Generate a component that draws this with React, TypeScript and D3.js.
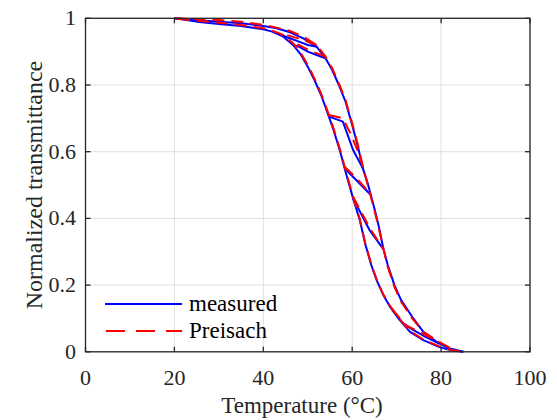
import React from "react";
import * as d3 from "d3";

// ---------- data ----------
const xTicks = [0, 20, 40, 60, 80, 100];
const yTicks = [0, 0.2, 0.4, 0.6, 0.8, 1];
const yTickLabels = ["0", "0.2", "0.4", "0.6", "0.8", "1"];

// measured (blue)
const measHeat: [number, number][] = [
  [20, 1], [25, 0.995], [30, 0.99], [35, 0.985], [40, 0.977], [43, 0.97], [46, 0.958], [49, 0.94],
  [52, 0.915], [54, 0.88], [55.5, 0.845], [57, 0.8], [58.5, 0.75], [60, 0.68], [61.3, 0.615],
  [62.4, 0.55], [63.5, 0.505], [65, 0.43], [66, 0.375], [67, 0.31], [68, 0.26], [69.5, 0.2],
  [71, 0.155], [73.5, 0.105], [76, 0.06], [79.5, 0.025], [82, 0.01], [85, 0],
];
const measCool: [number, number][] = [
  [85, 0], [82, 0.005], [79.5, 0.015], [76, 0.035], [73, 0.06], [70.7, 0.095], [68.5, 0.135],
  [67, 0.17], [65.5, 0.215], [64.3, 0.26], [63, 0.32], [61.7, 0.395], [60.2, 0.46], [58.7, 0.53],
  [57.3, 0.6], [55.8, 0.665], [54.5, 0.715], [53, 0.77], [51.5, 0.815], [50, 0.855], [48.5, 0.89],
  [46.7, 0.92], [44.5, 0.945], [42, 0.96], [40, 0.967], [35, 0.977], [30, 0.983], [25, 0.99], [20, 1],
];
const measMinor1: [number, number][] = [[54.8, 0.705], [57.9, 0.69], [60.2, 0.605], [62.4, 0.55]];
const measMinor2: [number, number][] = [[58.3, 0.55], [60.9, 0.515], [64.2, 0.47]];
const measMinor3: [number, number][] = [[60.2, 0.46], [63.9, 0.365], [66.9, 0.31]];
const measMinor4: [number, number][] = [[69, 0.125], [71.5, 0.085], [73.7, 0.066], [76.5, 0.045], [79.5, 0.025]];
const measMinor5: [number, number][] = [[52, 0.915], [50, 0.92], [48, 0.93], [46, 0.94], [44, 0.95]];
const measMinor6: [number, number][] = [[54, 0.88], [52, 0.89], [50, 0.9], [48, 0.915], [46.7, 0.92]];

// Preisach (red dashed)
const preHeat: [number, number][] = [
  [20, 1], [25, 0.998], [30, 0.995], [35, 0.99], [40, 0.98], [43, 0.972], [46, 0.962], [49, 0.945],
  [52, 0.92], [54, 0.885], [55.5, 0.85], [57, 0.805], [58.5, 0.755], [60, 0.685], [61.3, 0.62],
  [62.4, 0.555], [63.5, 0.5], [65, 0.425], [66, 0.37], [67, 0.31], [68, 0.255], [69.5, 0.195],
  [71, 0.15], [73.5, 0.1], [76, 0.06], [79.5, 0.03], [82, 0.012], [84, 0.002],
];
const preCool: [number, number][] = [
  [84, 0.002], [82, 0.006], [79.5, 0.017], [76, 0.037], [73, 0.062], [70.7, 0.097], [68.5, 0.138],
  [67, 0.172], [65.5, 0.217], [64.3, 0.262], [63, 0.322], [61.7, 0.398], [60.2, 0.465], [58.7, 0.535],
  [57.3, 0.605], [55.8, 0.67], [54.5, 0.72], [53, 0.775], [51.5, 0.82], [50, 0.86], [48.5, 0.895],
  [46.7, 0.925], [44.5, 0.95], [42, 0.963], [40, 0.97], [35, 0.98], [30, 0.987], [25, 0.993], [20, 1],
];
const preMinor1: [number, number][] = [[54.8, 0.71], [57.9, 0.7], [59.8, 0.65], [61.3, 0.6], [62.4, 0.555]];
const preMinor2: [number, number][] = [[58.3, 0.555], [61, 0.52], [64, 0.475]];
const preMinor3: [number, number][] = [[60.2, 0.465], [62, 0.42], [64, 0.37], [66.9, 0.31]];
const preMinor4: [number, number][] = [[69, 0.128], [72, 0.08], [75, 0.06], [79.5, 0.03]];
const preMinor5: [number, number][] = [[52, 0.92], [49, 0.935], [46.5, 0.945], [44, 0.955]];
const preMinor6: [number, number][] = [[54, 0.885], [51, 0.9], [48, 0.92], [46, 0.93]];

const measuredSeries = [measHeat, measCool, measMinor1, measMinor2, measMinor3, measMinor4, measMinor5, measMinor6];
const preisachSeries = [preHeat, preCool, preMinor1, preMinor2, preMinor3, preMinor4, preMinor5, preMinor6];

const legendLabels = ["measured", "Preisach"];

// ---------- chart ----------
const W = 557;
const H = 420;
const L = 85.5, R = 530, T = 18.3, B = 351.8;

export default function App() {
  const x = d3.scaleLinear().domain([0, 100]).range([L, R]);
  const y = d3.scaleLinear().domain([0, 1]).range([B, T]);
  const line = d3.line<[number, number]>().x((d) => x(d[0])).y((d) => y(d[1]));
  const axisColor = "#262626";
  const gridColor = "#dfdfdf";
  const fontStyle = { fontFamily: '"Liberation Serif"' };
  const tickLen = 5;

  return (
    <div style={{ position: "absolute", left: 0, top: 0 }}>
      <svg width={W} height={H} style={{ display: "block", background: "#fff" }}>
        {/* grid */}
        {xTicks.map((t) => (
          <line key={"gx" + t} x1={x(t)} x2={x(t)} y1={T} y2={B} stroke={gridColor} strokeWidth={1} />
        ))}
        {yTicks.map((t) => (
          <line key={"gy" + t} x1={L} x2={R} y1={y(t)} y2={y(t)} stroke={gridColor} strokeWidth={1} />
        ))}

        {/* measured */}
        {measuredSeries.map((s, i) => (
          <path key={"m" + i} d={line(s) || ""} fill="none" stroke="#0000ff" strokeWidth={2} strokeLinejoin="round" />
        ))}
        {/* Preisach */}
        {preisachSeries.map((s, i) => (
          <path key={"p" + i} d={line(s) || ""} fill="none" stroke="#ff0000" strokeWidth={2} strokeDasharray="12,7" />
        ))}

        {/* axes box */}
        <rect x={L} y={T} width={R - L} height={B - T} fill="none" stroke={axisColor} strokeWidth={1.3} />
        {xTicks.map((t) => (
          <g key={"tx" + t}>
            <line x1={x(t)} x2={x(t)} y1={B} y2={B - tickLen} stroke={axisColor} strokeWidth={1.3} />
            <line x1={x(t)} x2={x(t)} y1={T} y2={T + tickLen} stroke={axisColor} strokeWidth={1.3} />
            <text x={x(t)} y={385} textAnchor="middle" style={fontStyle} fontSize={22} fill={axisColor}>
              {t}
            </text>
          </g>
        ))}
        {yTicks.map((t, i) => (
          <g key={"ty" + t}>
            <line x1={L} x2={L + tickLen} y1={y(t)} y2={y(t)} stroke={axisColor} strokeWidth={1.3} />
            <line x1={R} x2={R - tickLen} y1={y(t)} y2={y(t)} stroke={axisColor} strokeWidth={1.3} />
            <text x={76} y={y(t) + 7} textAnchor="end" style={fontStyle} fontSize={22} fill={axisColor}>
              {yTickLabels[i]}
            </text>
          </g>
        ))}

        {/* axis labels */}
        <text x={302} y={413} textAnchor="middle" style={fontStyle} fontSize={23} fill={axisColor}>
          Temperature (°C)
        </text>
        <text
          transform={`translate(42, ${(T + B) / 2}) rotate(-90)`}
          textAnchor="middle"
          style={fontStyle}
          fontSize={24}
          fill={axisColor}
        >
          Normalized transmittance
        </text>

        {/* legend */}
        <line x1={105} x2={182} y1={304} y2={304} stroke="#0000ff" strokeWidth={2} />
        <line x1={106} x2={182} y1={331} y2={331} stroke="#ff0000" strokeWidth={2} strokeDasharray="19,11" />
        <text x={189} y={311} style={fontStyle} fontSize={23} fill="#000">
          {legendLabels[0]}
        </text>
        <text x={189} y={338} style={fontStyle} fontSize={23} fill="#000">
          {legendLabels[1]}
        </text>
      </svg>
    </div>
  );
}
